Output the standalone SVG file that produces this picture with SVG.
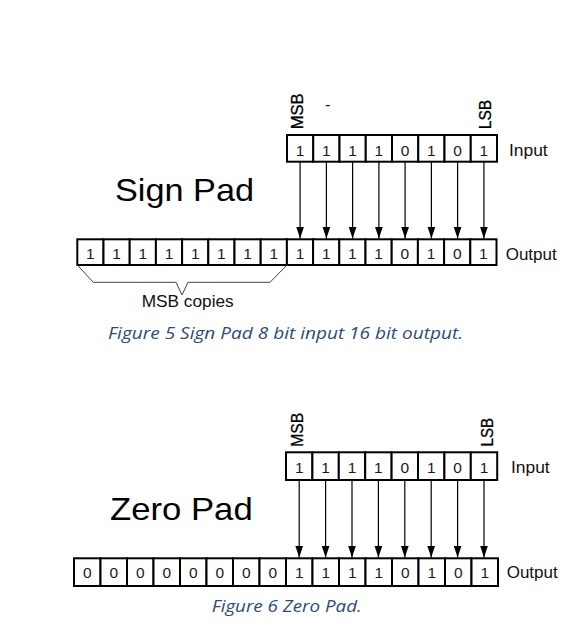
<svg xmlns="http://www.w3.org/2000/svg" width="587" height="640" viewBox="0 0 587 640">
<defs>
<style>
.cell{fill:#fff;stroke:#000;stroke-width:2}
.d{font-family:"Liberation Sans",Arial,sans-serif;font-size:15.5px;text-anchor:middle;fill:#1a1a1a}
.lbl{font-family:"Liberation Sans",Arial,sans-serif;font-size:16.5px;fill:#111}
.ml{font-family:"Liberation Sans",Arial,sans-serif;font-size:16.5px;fill:#000;stroke:#000;stroke-width:0.3}
.big{font-family:"Liberation Sans",Arial,sans-serif;font-size:32px;fill:#000}
.cap{font-family:"Open Sans","Liberation Sans",sans-serif;font-style:italic;font-size:16.5px;fill:#2e4a7a}
.conn{stroke:#000;stroke-width:1.2;fill:none}
.brace{stroke:#444;stroke-width:1;fill:none}
</style>
<marker id="ah" markerUnits="userSpaceOnUse" markerWidth="12" markerHeight="8" viewBox="0 0 12 8" refX="12" refY="4" orient="auto">
<path d="M0,0 L12,4 L0,8 z" fill="#000"/>
</marker>
</defs>
<rect width="587" height="640" fill="#fff"/>

<!-- ===== Figure 5: Sign Pad ===== -->
<g id="sign-title"><text class="big" x="115" y="200.7" textLength="139" lengthAdjust="spacingAndGlyphs">Sign Pad</text></g>

<g id="sign-msb-lsb">
<text class="ml" transform="translate(303.3,129.3) rotate(-90)" textLength="36" lengthAdjust="spacingAndGlyphs">MSB</text>
<text class="ml" transform="translate(490.5,129.3) rotate(-90)" textLength="29.5" lengthAdjust="spacingAndGlyphs">LSB</text>
<text class="lbl" x="325" y="110" font-size="13">-</text>
</g>

<g id="sign-input">
<rect class="cell" x="287" y="135" width="26.25" height="26.7"/>
<rect class="cell" x="313.25" y="135" width="26.25" height="26.7"/>
<rect class="cell" x="339.5" y="135" width="26.25" height="26.7"/>
<rect class="cell" x="365.75" y="135" width="26.25" height="26.7"/>
<rect class="cell" x="392" y="135" width="26.25" height="26.7"/>
<rect class="cell" x="418.25" y="135" width="26.25" height="26.7"/>
<rect class="cell" x="444.5" y="135" width="26.25" height="26.7"/>
<rect class="cell" x="470.75" y="135" width="26.25" height="26.7"/>
<text class="d" x="300.1" y="155.7">1</text>
<text class="d" x="326.4" y="155.7">1</text>
<text class="d" x="352.6" y="155.7">1</text>
<text class="d" x="378.9" y="155.7">1</text>
<text class="d" x="405.1" y="155.7">0</text>
<text class="d" x="431.4" y="155.7">1</text>
<text class="d" x="457.6" y="155.7">0</text>
<text class="d" x="483.9" y="155.7">1</text>
<text class="lbl" x="509" y="155.7" textLength="38.7" lengthAdjust="spacingAndGlyphs">Input</text>
</g>

<g id="sign-output">
<rect class="cell" x="77.3" y="239.3" width="26.2" height="25.7"/>
<rect class="cell" x="103.5" y="239.3" width="26.2" height="25.7"/>
<rect class="cell" x="129.7" y="239.3" width="26.2" height="25.7"/>
<rect class="cell" x="155.9" y="239.3" width="26.2" height="25.7"/>
<rect class="cell" x="182.1" y="239.3" width="26.2" height="25.7"/>
<rect class="cell" x="208.3" y="239.3" width="26.2" height="25.7"/>
<rect class="cell" x="234.5" y="239.3" width="26.2" height="25.7"/>
<rect class="cell" x="260.7" y="239.3" width="26.2" height="25.7"/>
<rect class="cell" x="286.9" y="239.3" width="26.2" height="25.7"/>
<rect class="cell" x="313.1" y="239.3" width="26.2" height="25.7"/>
<rect class="cell" x="339.3" y="239.3" width="26.2" height="25.7"/>
<rect class="cell" x="365.5" y="239.3" width="26.2" height="25.7"/>
<rect class="cell" x="391.7" y="239.3" width="26.2" height="25.7"/>
<rect class="cell" x="417.9" y="239.3" width="26.2" height="25.7"/>
<rect class="cell" x="444.1" y="239.3" width="26.2" height="25.7"/>
<rect class="cell" x="470.3" y="239.3" width="26.2" height="25.7"/>
<text class="d" x="90.4" y="259.3">1</text>
<text class="d" x="116.6" y="259.3">1</text>
<text class="d" x="142.8" y="259.3">1</text>
<text class="d" x="169" y="259.3">1</text>
<text class="d" x="195.2" y="259.3">1</text>
<text class="d" x="221.4" y="259.3">1</text>
<text class="d" x="247.6" y="259.3">1</text>
<text class="d" x="273.8" y="259.3">1</text>
<text class="d" x="300" y="259.3">1</text>
<text class="d" x="326.2" y="259.3">1</text>
<text class="d" x="352.4" y="259.3">1</text>
<text class="d" x="378.6" y="259.3">1</text>
<text class="d" x="404.8" y="259.3">0</text>
<text class="d" x="431" y="259.3">1</text>
<text class="d" x="457.2" y="259.3">0</text>
<text class="d" x="483.4" y="259.3">1</text>
<text class="lbl" x="505.7" y="259.5" textLength="51" lengthAdjust="spacingAndGlyphs">Output</text>
</g>

<g id="sign-brace">
<polyline class="brace" points="77.3,265 93.3,282.3 176,282.3 182,295 188,282.3 270,282.3 287,265"/>
<text class="lbl" x="141.7" y="307.3" textLength="92" lengthAdjust="spacingAndGlyphs">MSB copies</text>
</g>

<g id="connectors-sign">
<line class="conn" x1="300.1" y1="161.7" x2="300.1" y2="238.5" marker-end="url(#ah)"/>
<line class="conn" x1="326.4" y1="161.7" x2="326.4" y2="238.5" marker-end="url(#ah)"/>
<line class="conn" x1="352.6" y1="161.7" x2="352.6" y2="238.5" marker-end="url(#ah)"/>
<line class="conn" x1="378.9" y1="161.7" x2="378.9" y2="238.5" marker-end="url(#ah)"/>
<line class="conn" x1="405.1" y1="161.7" x2="405.1" y2="238.5" marker-end="url(#ah)"/>
<line class="conn" x1="431.4" y1="161.7" x2="431.4" y2="238.5" marker-end="url(#ah)"/>
<line class="conn" x1="457.6" y1="161.7" x2="457.6" y2="238.5" marker-end="url(#ah)"/>
<line class="conn" x1="483.9" y1="161.7" x2="483.9" y2="238.5" marker-end="url(#ah)"/>
</g>

<g id="caption-5"><text class="cap" x="108" y="338.7" textLength="355" lengthAdjust="spacingAndGlyphs">Figure 5 Sign Pad 8 bit input 16 bit output.</text></g>

<!-- ===== Figure 6: Zero Pad ===== -->
<g id="zero-title"><text class="big" x="110" y="520" textLength="142.7" lengthAdjust="spacingAndGlyphs">Zero Pad</text></g>

<g id="zero-msb-lsb">
<text class="ml" transform="translate(303.3,446.7) rotate(-90)" textLength="34" lengthAdjust="spacingAndGlyphs">MSB</text>
<text class="ml" transform="translate(492.5,446.5) rotate(-90)" textLength="28.5" lengthAdjust="spacingAndGlyphs">LSB</text>
</g>

<g id="zero-input">
<rect class="cell" x="286" y="452.3" width="26.4" height="27.7"/>
<rect class="cell" x="312.4" y="452.3" width="26.4" height="27.7"/>
<rect class="cell" x="338.8" y="452.3" width="26.4" height="27.7"/>
<rect class="cell" x="365.2" y="452.3" width="26.4" height="27.7"/>
<rect class="cell" x="391.6" y="452.3" width="26.4" height="27.7"/>
<rect class="cell" x="418" y="452.3" width="26.4" height="27.7"/>
<rect class="cell" x="444.4" y="452.3" width="26.4" height="27.7"/>
<rect class="cell" x="470.8" y="452.3" width="26.4" height="27.7"/>
<text class="d" x="299.2" y="473.3">1</text>
<text class="d" x="325.6" y="473.3">1</text>
<text class="d" x="352" y="473.3">1</text>
<text class="d" x="378.4" y="473.3">1</text>
<text class="d" x="404.8" y="473.3">0</text>
<text class="d" x="431.2" y="473.3">1</text>
<text class="d" x="457.6" y="473.3">0</text>
<text class="d" x="484" y="473.3">1</text>
<text class="lbl" x="511" y="473.3" textLength="38.7" lengthAdjust="spacingAndGlyphs">Input</text>
</g>

<g id="zero-output">
<rect class="cell" x="74" y="558.3" width="26.5" height="27.7"/>
<rect class="cell" x="100.5" y="558.3" width="26.5" height="27.7"/>
<rect class="cell" x="127" y="558.3" width="26.5" height="27.7"/>
<rect class="cell" x="153.5" y="558.3" width="26.5" height="27.7"/>
<rect class="cell" x="180" y="558.3" width="26.5" height="27.7"/>
<rect class="cell" x="206.5" y="558.3" width="26.5" height="27.7"/>
<rect class="cell" x="233" y="558.3" width="26.5" height="27.7"/>
<rect class="cell" x="259.5" y="558.3" width="26.5" height="27.7"/>
<rect class="cell" x="286" y="558.3" width="26.5" height="27.7"/>
<rect class="cell" x="312.5" y="558.3" width="26.5" height="27.7"/>
<rect class="cell" x="339" y="558.3" width="26.5" height="27.7"/>
<rect class="cell" x="365.5" y="558.3" width="26.5" height="27.7"/>
<rect class="cell" x="392" y="558.3" width="26.5" height="27.7"/>
<rect class="cell" x="418.5" y="558.3" width="26.5" height="27.7"/>
<rect class="cell" x="445" y="558.3" width="26.5" height="27.7"/>
<rect class="cell" x="471.5" y="558.3" width="26.5" height="27.7"/>
<text class="d" x="87.25" y="578.3">0</text>
<text class="d" x="113.75" y="578.3">0</text>
<text class="d" x="140.25" y="578.3">0</text>
<text class="d" x="166.75" y="578.3">0</text>
<text class="d" x="193.25" y="578.3">0</text>
<text class="d" x="219.75" y="578.3">0</text>
<text class="d" x="246.25" y="578.3">0</text>
<text class="d" x="272.75" y="578.3">0</text>
<text class="d" x="299.25" y="578.3">1</text>
<text class="d" x="325.75" y="578.3">1</text>
<text class="d" x="352.25" y="578.3">1</text>
<text class="d" x="378.75" y="578.3">1</text>
<text class="d" x="405.25" y="578.3">0</text>
<text class="d" x="431.75" y="578.3">1</text>
<text class="d" x="458.25" y="578.3">0</text>
<text class="d" x="484.75" y="578.3">1</text>
<text class="lbl" x="506.7" y="578.3" textLength="51" lengthAdjust="spacingAndGlyphs">Output</text>
</g>

<g id="connectors-zero">
<line class="conn" x1="299.2" y1="480" x2="299.2" y2="557.5" marker-end="url(#ah)"/>
<line class="conn" x1="325.6" y1="480" x2="325.6" y2="557.5" marker-end="url(#ah)"/>
<line class="conn" x1="352" y1="480" x2="352" y2="557.5" marker-end="url(#ah)"/>
<line class="conn" x1="378.4" y1="480" x2="378.4" y2="557.5" marker-end="url(#ah)"/>
<line class="conn" x1="404.8" y1="480" x2="404.8" y2="557.5" marker-end="url(#ah)"/>
<line class="conn" x1="431.2" y1="480" x2="431.2" y2="557.5" marker-end="url(#ah)"/>
<line class="conn" x1="457.6" y1="480" x2="457.6" y2="557.5" marker-end="url(#ah)"/>
<line class="conn" x1="484" y1="480" x2="484" y2="557.5" marker-end="url(#ah)"/>
</g>

<g id="caption-6"><text class="cap" x="211.7" y="611.7" textLength="150" lengthAdjust="spacingAndGlyphs">Figure 6 Zero Pad.</text></g>
</svg>
